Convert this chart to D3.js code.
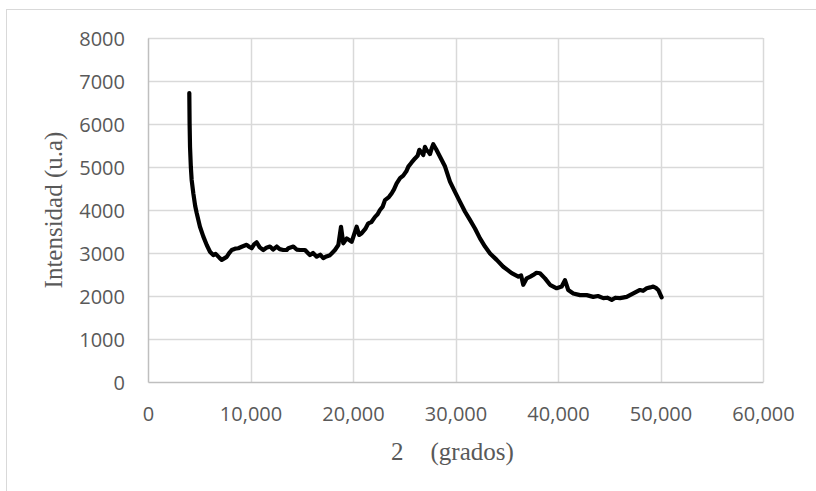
<!DOCTYPE html>
<html>
<head>
<meta charset="utf-8">
<script src="https://cdn.jsdelivr.net/npm/d3@7"></script>
<style>
  html, body { margin: 0; padding: 0; background: #fff; }
  svg { display: block; }
</style>
</head>
<body>
<svg id="chart" width="816" height="491"></svg>
<script>
// ---- data ----
const twoTheta = [
  4.03, 4.06, 4.10, 4.18, 4.26, 4.42, 4.60, 4.75, 5.07, 5.40, 5.73, 6.05, 6.37, 6.60, 6.86, 7.00,
  7.19, 7.40, 7.68, 7.90, 8.17, 8.50, 8.81, 9.20, 9.63, 9.90, 10.12, 10.35, 10.60, 10.90, 11.25, 11.55,
  11.90, 12.20, 12.56, 12.85, 13.20, 13.53, 13.69, 14.18, 14.50, 14.83, 15.32, 15.80, 16.10, 16.46, 16.80, 17.10,
  17.40, 17.76, 18.24, 18.57, 18.83, 19.05, 19.39, 19.87, 20.36, 20.60, 20.85, 21.20, 21.49, 21.80, 22.15, 22.40,
  22.63, 22.90, 23.12, 23.50, 23.78, 24.00, 24.26, 24.59, 24.90, 25.20, 25.40, 25.70, 26.05, 26.30, 26.47, 26.70,
  26.86, 27.02, 27.20, 27.35, 27.51, 27.70, 27.83, 28.10, 28.49, 28.98, 29.46, 29.95, 30.44, 30.93, 31.41, 31.90,
  32.39, 32.88, 33.37, 34.02, 34.66, 35.10, 35.48, 36.13, 36.40, 36.61, 36.95, 37.30, 37.59, 37.90, 38.24, 38.73,
  39.22, 39.87, 40.36, 40.68, 41.00, 41.49, 42.15, 42.80, 43.44, 43.90, 44.42, 44.80, 45.24, 45.60, 46.05, 46.70,
  47.35, 48.00, 48.30, 48.65, 49.00, 49.29, 49.55, 49.78, 50.11
];
const intensity = [
  6720, 6000, 5470, 5000, 4700, 4390, 4100, 3930, 3610, 3380, 3185, 3030, 2950, 2980, 2915, 2880,
  2840, 2870, 2910, 2990, 3070, 3100, 3110, 3150, 3190, 3140, 3110, 3200, 3250, 3130, 3070, 3120,
  3150, 3080, 3150, 3090, 3070, 3070, 3110, 3150, 3080, 3070, 3070, 2950, 3000, 2915, 2960, 2880,
  2920, 2950, 3070, 3185, 3610, 3225, 3340, 3260, 3610, 3420, 3460, 3560, 3690, 3720, 3840, 3900,
  4000, 4080, 4230, 4300, 4390, 4480, 4620, 4740, 4800, 4900, 5010, 5100, 5200, 5260, 5400, 5330,
  5280, 5470, 5380, 5360, 5300, 5450, 5530, 5420, 5240, 5010, 4660, 4420, 4190, 3960, 3770, 3570,
  3340, 3150, 2990, 2840, 2680, 2600, 2530, 2450, 2480, 2260, 2410, 2450, 2490, 2540, 2530, 2410,
  2260, 2180, 2220, 2370, 2140, 2060, 2020, 2020, 1980, 2000, 1950, 1960, 1910, 1960, 1950, 1980,
  2060, 2140, 2120, 2180, 2200, 2220, 2190, 2140, 1970
];
const xTicks = [0, 10, 20, 30, 40, 50, 60];
const xTickLabels = ["0", "10,000", "20,000", "30,000", "40,000", "50,000", "60,000"];
const yTicks = [0, 1000, 2000, 3000, 4000, 5000, 6000, 7000, 8000];
const yTickLabels = ["0", "1000", "2000", "3000", "4000", "5000", "6000", "7000", "8000"];
const yTitle = "Intensidad (u.a)";
const xTitleMain = "2";
const xTitleUnit = "(grados)";

// ---- drawing ----
const svg = d3.select("#chart");
const plot = { left: 148, right: 763, top: 38, bottom: 382 };

const x = d3.scaleLinear().domain([0, 60]).range([plot.left, plot.right]);
const y = d3.scaleLinear().domain([0, 8000]).range([plot.bottom, plot.top]);

// outer chart frame (extends past the window on right and bottom)
svg.append("rect")
  .attr("x", 6.5).attr("y", 9.5)
  .attr("width", 830).attr("height", 510)
  .attr("fill", "#fff")
  .attr("stroke", "#d9d9d9").attr("stroke-width", 1);

// gridlines
const grid = svg.append("g");
grid.selectAll("line.h").data(yTicks.slice(1)).join("line")
  .attr("x1", plot.left).attr("x2", plot.right)
  .attr("y1", d => Math.round(y(d)) + 0.5).attr("y2", d => Math.round(y(d)) + 0.5)
  .attr("stroke", "#d9d9d9").attr("stroke-width", 1.5);
grid.selectAll("line.v").data(xTicks.slice(1)).join("line")
  .attr("y1", plot.top).attr("y2", plot.bottom)
  .attr("x1", d => Math.round(x(d)) + 0.5).attr("x2", d => Math.round(x(d)) + 0.5)
  .attr("stroke", "#d9d9d9").attr("stroke-width", 1.5);

// axes
const xAxis = d3.axisBottom(x).tickValues(xTicks)
  .tickFormat((d, i) => xTickLabels[i]).tickSize(0).tickPadding(0);
const gx = svg.append("g").attr("transform", `translate(0,${plot.bottom})`).call(xAxis);
gx.select(".domain").attr("stroke", "#bfbfbf").attr("stroke-width", 1.5);
gx.selectAll("text")
  .attr("y", 39).attr("dy", 0)
  .attr("fill", "#595959")
  .style("font-family", "'Open Sans', sans-serif").style("font-size", "20px");

const yAxis = d3.axisLeft(y).tickValues(yTicks)
  .tickFormat((d, i) => yTickLabels[i]).tickSize(0).tickPadding(0);
const gy = svg.append("g").attr("transform", `translate(${plot.left},0)`).call(yAxis);
gy.select(".domain").attr("stroke", "#bfbfbf").attr("stroke-width", 1.5);
gy.selectAll("text")
  .attr("x", -23).attr("dy", 7)
  .attr("fill", "#595959")
  .style("font-family", "'Open Sans', sans-serif").style("font-size", "20px");

// data line
const pts = twoTheta.map((t, i) => [t, intensity[i]]);
svg.append("path")
  .datum(pts)
  .attr("fill", "none")
  .attr("stroke", "#000")
  .attr("stroke-width", 4.2)
  .attr("stroke-linejoin", "round")
  .attr("stroke-linecap", "round")
  .attr("d", d3.line().x(d => x(d[0])).y(d => y(d[1])));

// axis titles
svg.append("text")
  .attr("transform", `translate(62,${(plot.top + plot.bottom) / 2}) rotate(-90)`)
  .attr("text-anchor", "middle")
  .attr("fill", "#595959")
  .style("font-family", "'Liberation Serif', 'Times New Roman', serif")
  .style("font-size", "25px")
  .text(yTitle);

const xt = svg.append("text")
  .attr("x", 391).attr("y", 460)
  .attr("fill", "#595959")
  .style("font-family", "'Liberation Serif', 'Times New Roman', serif")
  .style("font-size", "25px");
xt.append("tspan").text(xTitleMain);
xt.append("tspan").attr("dx", 27).text(xTitleUnit);
</script>
</body>
</html>
